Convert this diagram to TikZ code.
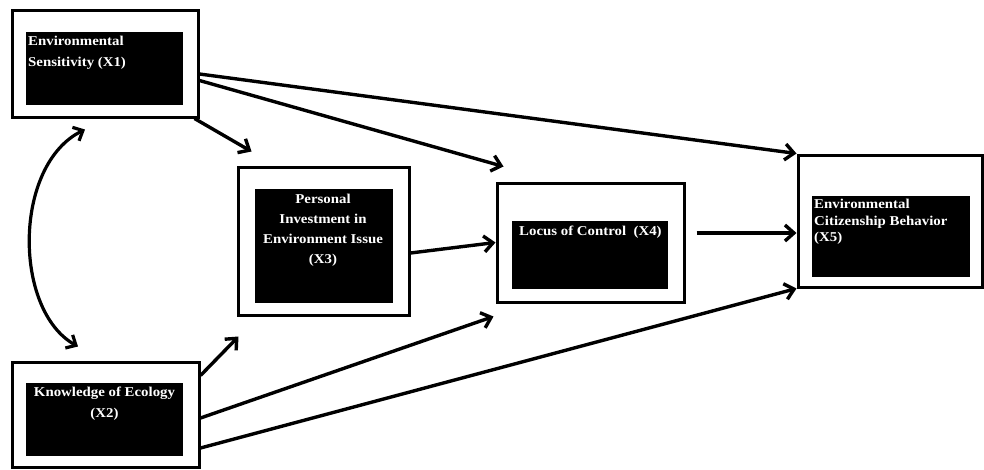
\documentclass[tikz,border=0pt]{standalone}
\usepackage{fontspec}
\setmainfont{Liberation Serif}[FakeStretch=1.1]
\usetikzlibrary{arrows.meta}
\begin{document}
\begin{tikzpicture}[x=1pt,y=-1pt,
  outerbox/.style={draw=black,line width=3pt,fill=white,inner sep=0pt,minimum width=#1},
  innerbox/.style={fill=black,draw=none,inner sep=0pt},
  lbl/.style={text=white,inner sep=0pt,font=\bfseries\fontsize{13.5}{21}\selectfont},
  conn/.style={line width=3.4pt,-{Straight Barb[length=9pt,width=16pt]}},
  biconn/.style={line width=3.2pt,{Straight Barb[length=8pt,width=15pt]}-{Straight Barb[length=8pt,width=15pt]}}
]
\useasboundingbox[fill=white] (0,0) rectangle (984,469);
% outer boxes
\node[outerbox=186pt,minimum height=107pt] (x1) at (105,63.5) {};
\node[outerbox=187pt,minimum height=105pt] (x2) at (105.5,414.5) {};
\node[outerbox=171pt,minimum height=148pt] (x3) at (323.5,241) {};
\node[outerbox=187pt,minimum height=119pt] (x4) at (590.5,242.5) {};
\node[outerbox=184pt,minimum height=132pt] (x5) at (890,221) {};
% inner black boxes
\node[innerbox,minimum width=157pt,minimum height=73pt] (i1) at (104.5,68.5) {};
\node[innerbox,minimum width=157pt,minimum height=73pt] (i2) at (104.5,419.5) {};
\node[innerbox,minimum width=138pt,minimum height=114pt] (i3) at (324,246) {};
\node[innerbox,minimum width=156pt,minimum height=68pt] (i4) at (590,255) {};
\node[innerbox,minimum width=158pt,minimum height=81pt] (i5) at (891,236.5) {};
% labels
\node[lbl,align=left,anchor=west] (t1) at (28,53) {Environmental\\Sensitivity (X1)};
\node[lbl,align=center] (t2) at (104.5,404) {Knowledge of Ecology\\(X2)};
\node[lbl,align=center,font=\bfseries\fontsize{13.5}{20}\selectfont] (t3) at (323,230.5) {Personal\\Investment in\\Environment Issue\\(X3)};
\node[lbl,anchor=west] (t4) at (519,232) {Locus of Control~~(X4)};
\node[lbl,align=left,anchor=west,font=\bfseries\fontsize{13.5}{16.5}\selectfont] (t5) at (814,222) {Environmental\\Citizenship Behavior\\(X5)};
% connectors
\draw[conn] ([xshift=-5pt]x1.south east) -- ([xshift=15pt,yshift=14pt]x3.north west);
\draw[conn] ([yshift=-17pt]x1.east) -- ([xshift=8pt,yshift=15pt]x4.north west);
\draw[conn] ([yshift=-10.5pt]x1.east) -- (x5.north west);
\draw[conn] ([yshift=-15pt]x2.north east) -- ([xshift=2pt,yshift=-20pt]x3.south west);
\draw[conn] ([yshift=-3.5pt]x2.east) -- ([xshift=-2pt,yshift=-13pt]x4.south west);
\draw[conn] ([yshift=-33.5pt]x2.east) -- (x5.south west);
\draw[conn] ([yshift=-12pt]x3.east) -- (x4.west);
\draw[conn] ([xshift=11pt,yshift=9.5pt]x4.east) -- ([yshift=-12pt]x5.west);
\draw[biconn] ([xshift=-20pt,yshift=-11pt]x1.south) .. controls (13,165) and (13,310) .. ([xshift=-27.5pt,yshift=14pt]x2.north);
\end{tikzpicture}
\end{document}
